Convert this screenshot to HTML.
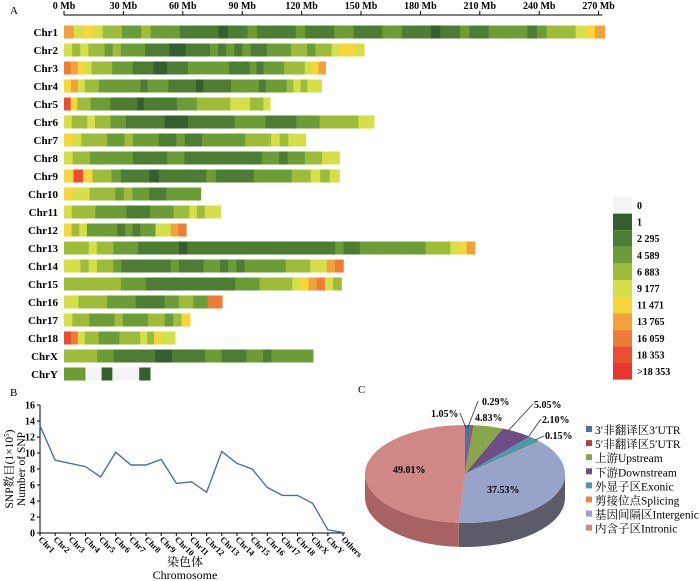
<!DOCTYPE html>
<html><head><meta charset="utf-8"><style>
body{margin:0;background:#fff;}
svg{display:block;font-family:"Liberation Serif","Noto Serif CJK SC",serif;}
</style></head><body>
<svg id="s" width="700" height="581" viewBox="0 0 700 581">
<text x="10" y="14" font-size="11">A</text>
<text x="10" y="396" font-size="11">B</text>
<text x="358" y="393" font-size="11">C</text>
<g id="gA"></g>
<g id="gL"></g>
<g id="gB"></g>
<g id="gC"></g>
</svg>
<script>
const NS="http://www.w3.org/2000/svg";
function mk(p,t,a,txt){const e=document.createElementNS(NS,t);for(const k in a)e.setAttribute(k,a[k]);if(txt!==undefined)e.textContent=txt;p.appendChild(e);return e;}

// ---- Panel A data ----
const chrNames=["Chr1","Chr2","Chr3","Chr4","Chr5","Chr6","Chr7","Chr8","Chr9","Chr10","Chr11","Chr12","Chr13","Chr14","Chr15","Chr16","Chr17","Chr18","ChrX","ChrY"];
const chrLengthsMb=[273,151.5,132,130,104,156.5,122,139,139,69,79,61.6,207.5,141,140,79.8,63.6,56,125.7,43.4];
const chrDensity=["75654433433322221223222232223322233222122322333323444567","5454434333222112223232322333443445665","87654443332221122233333322232333444567","6754433333323332222122223333233345455","9644333222212222233344444555445","5445443322222111222222333322223334444455","6544433433322322333334445455","54433333222233222222222332334455","69644322212222232222333344545","6554443433223333","54443333222333445455","6453333232335578","44454433322222122222222222222222232233333333444567","5545443222222322233232333334445578","4444444333222222222223334444567854","5544443333222233443388","544333433344346","9854433344454655","444433222221122223322233233333","3333000110000011"];
const axisTicksMb=[0,30,60,90,120,150,180,210,240,270];
const legendLabels=["0","1","2 295","4 589","6 883","9 177","11 471","13 765","16 059","18 353",">18 353"];
const levelColors=["#f4f4f4","#345e2c","#4c7d32","#6c9c35","#9dbd3a","#d5df48","#f7d63c","#f3a23b","#ee7b36","#ea4d31","#e5372e"];

const gA=document.getElementById('gA');
const x0=64,pxPerMb=1.98;
const xMb=v=>x0+v*pxPerMb;
mk(gA,'line',{x1:xMb(0),x2:xMb(272),y1:15,y2:15,stroke:'#000','stroke-width':1});
axisTicksMb.forEach(t=>{
  const l=mk(gA,'line',{x1:xMb(t),x2:xMb(t),y1:11,y2:15,stroke:'#000'});
  
  
  const tx=mk(gA,'text',{x:xMb(t),y:9,'font-size':10,'font-weight':'bold','text-anchor':'middle'},t+' Mb');
  
  
});
chrNames.forEach((n,i)=>{
  const cy=32+i*18;
  const lb=mk(gA,'text',{x:58,y:cy+4,'font-size':11,'font-weight':'bold','text-anchor':'end'},n);
  
  
  const g=mk(gA,'g',{});
  
  
  const s=chrDensity[i],w=chrLengthsMb[i]*pxPerMb,bw=w/s.length;
  for(let j=0;j<s.length;j++){
    const c=mk(g,'rect',{x:x0+j*bw,y:cy-6.5,width:bw+0.6,height:13,fill:levelColors[+s[j]]});
    
    
  }
});
const gL=document.getElementById('gL');
legendLabels.forEach((l,i)=>{
  const y=197+i*16.6;
  const r=mk(gL,'rect',{x:613,y:y,width:19,height:16.6,fill:levelColors[i]});
  
  
  const t=mk(gL,'text',{x:637,y:y+12,'font-size':10,'font-weight':'bold'},l);
  
  
});

// ---- Panel B data ----
const lineCats=["Chr1","Chr2","Chr3","Chr4","Chr5","Chr6","Chr7","Chr8","Chr9","Chr10","Chr11","Chr12","Chr13","Chr14","Chr15","Chr16","Chr17","Chr18","ChrX","ChrY","Others"];
const lineValues=[13.4,9.1,8.7,8.3,7.0,10.1,8.5,8.5,9.2,6.2,6.4,5.1,10.2,8.7,8.0,5.7,4.7,4.7,3.7,0.4,0.05];
const yTicks=[0,2,4,6,8,10,12,14,16];
const gB=document.getElementById('gB');
const bx0=40,bx1=345,by0=533,by1=405;
const bx=i=>bx0+i*(bx1-bx0-2)/(lineCats.length-1);
const by=v=>by0-(v/16)*(by0-by1);
mk(gB,'line',{x1:bx0,x2:bx0,y1:by1,y2:by0,stroke:'#000'});
mk(gB,'line',{x1:bx0,x2:bx1,y1:by0,y2:by0,stroke:'#000'});
yTicks.forEach(t=>{
  const l=mk(gB,'line',{x1:bx0-3,x2:bx0,y1:by(t),y2:by(t),stroke:'#000'});
  
  const tx=mk(gB,'text',{x:bx0-5,y:by(t)+3.5,'font-size':10,'font-weight':'bold','text-anchor':'end'},t);
  
  
});
lineCats.forEach((c,i)=>{
  const l=mk(gB,'line',{x1:bx(i),x2:bx(i),y1:by0,y2:by0+3,stroke:'#000'});
  
  const tx=mk(gB,'text',{x:bx(i)-2,y:by0+7,'font-size':8.5,'font-weight':'bold',transform:`rotate(45 ${bx(i)-2} ${by0+7})`},c);
  
  
});
const pl=mk(gB,'polyline',{points:lineValues.map((v,i)=>bx(i)+','+by(v)).join(' '),fill:'none',stroke:'#4f6ea6','stroke-width':1.4});


mk(gB,'text',{x:185,y:566,'font-size':12,'text-anchor':'middle'},'染色体');
mk(gB,'text',{x:185,y:579,'font-size':12,'text-anchor':'middle'},'Chromosome');
const yt=mk(gB,'text',{x:0,y:0,'font-size':11.5,'text-anchor':'middle',transform:'translate(13 469) rotate(-90)'});

yt.innerHTML='SNP数目(1×10<tspan font-size="7" dy="-4">5</tspan><tspan dy="4">)</tspan>';
mk(gB,'text',{x:0,y:0,'font-size':11.5,'text-anchor':'middle',transform:'translate(25 469) rotate(-90)'},'Number of SNP');

// ---- Panel C data ----
const pieLabels=["3′非翻译区3′UTR","5′非翻译区5′UTR","上游Upstream","下游Downstream","外显子区Exonic","剪接位点Splicing","基因间隔区Intergenic","内含子区Intronic"];
const pieValues=[1.05,0.29,4.83,5.05,2.10,0.15,37.53,49.01];
const pieColors=["#4f6fa8","#b0413e","#8aa64a","#6f4d86","#4a9aa8","#e08a3c","#97a3c9","#d08886"];
const pieSide=["#3a5280","#80302d","#66793a","#513862","#367380","#a8652c","#5c5c68","#a86262"];
const gC=document.getElementById('gC');
const cx=465,cy=474,rx=100,ry=49,dep=24;
const P=(a,d)=>[cx+rx*Math.sin(a),cy-ry*Math.cos(a)+(d||0)];
const tot=pieValues.reduce((a,b)=>a+b,0);
let acc=0;const angs=pieValues.map(v=>{const a0=acc/tot*2*Math.PI;acc+=v;return [a0,acc/tot*2*Math.PI];});
// sides (front half: angle pi/2 .. 3pi/2)
angs.forEach(([a0,a1],i)=>{
  const s=Math.max(a0,Math.PI/2),e=Math.min(a1,3*Math.PI/2);
  if(e<=s)return;
  const p0=P(s),p1=P(e),q1=P(e,dep),q0=P(s,dep);
  const d=`M${p0}A${rx} ${ry} 0 0 1 ${p1}L${q1}A${rx} ${ry} 0 0 0 ${q0}Z`;
  const p=mk(gC,'path',{d:d,fill:pieSide[i]});
  
  
});
angs.forEach(([a0,a1],i)=>{
  const p0=P(a0),p1=P(a1),lg=(a1-a0)>Math.PI?1:0;
  const p=mk(gC,'path',{d:`M${cx},${cy}L${p0}A${rx} ${ry} 0 ${lg} 1 ${p1}Z`,fill:pieColors[i]});
  
  
});
const lbls=[["1.05%",431,417,[[460,413],[466,428]]],["0.29%",482,405,[[478,401],[468,427]]],["4.83%",475,421,null],["5.05%",534,408,[[533,404],[508,431]]],["2.10%",542,423,[[541,419],[529,436]]],["0.15%",545,439,[[544,436],[535,440]]],["49.01%",393,473,null],["37.53%",487,493,null]];
lbls.forEach(([t,x,y,ln])=>{
  if(ln){const l=mk(gC,'polyline',{points:ln.map(p=>p.join(',')).join(' '),fill:'none',stroke:'#333','stroke-width':0.8});}
  const tx=mk(gC,'text',{x:x,y:y,'font-size':10,'font-weight':'bold'},t);
  
  
});
pieLabels.forEach((l,i)=>{
  const y=430+i*14.1;
  const r=mk(gC,'rect',{x:586,y:y-4,width:6,height:6,fill:pieColors[i]});
  
  
  const t=mk(gC,'text',{x:595,y:y+4,'font-size':11.5},l);
  
  
});
</script>
</body></html>
